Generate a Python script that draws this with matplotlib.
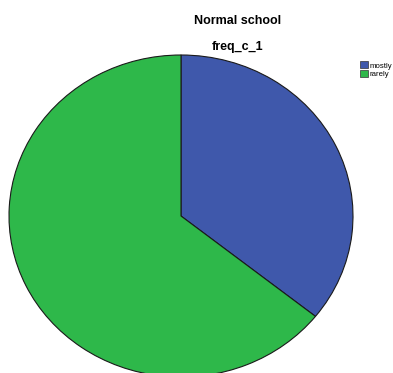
import matplotlib.pyplot as plt
from matplotlib.patches import Patch

plt.rcParams['font.family'] = ['Liberation Sans', 'DejaVu Sans']

labels = ['mostly', 'rarely']
counts = [5, 9]
colors = ['#3f58ab', '#2eb84a']

W, H = 393, 373
fig = plt.figure(figsize=(W / 100, H / 100), dpi=100)

# pie is stretched a little wider than tall
ax = fig.add_axes([9 / W, (H - 377) / H, 344 / W, 322 / H])
ax.pie(counts, colors=colors, startangle=90, counterclock=False,
       wedgeprops=dict(edgecolor='#1a1a1a', linewidth=0.8))
ax.set_aspect('auto')
ax.set_xlim(-1, 1)
ax.set_ylim(-1, 1)
ax.axis('off')

fig.text(238 / W, 1 - 21 / H, 'Normal school', ha='center', va='center',
         fontweight='bold', fontsize=9)
fig.text(238 / W, 1 - 47 / H, 'freq_c_1', ha='center', va='center',
         fontweight='bold', fontsize=9)

handles = [Patch(facecolor=c, edgecolor='#333333', linewidth=0.5) for c in colors]
fig.legend(handles, labels, loc='upper left', bbox_to_anchor=(355 / W, 1 - 56 / H),
           frameon=False, fontsize=5.6, handlelength=1.0, handleheight=1.0,
           handletextpad=0.2, labelspacing=0.05, borderpad=0.2)

fig.savefig('out.png', dpi=100)
